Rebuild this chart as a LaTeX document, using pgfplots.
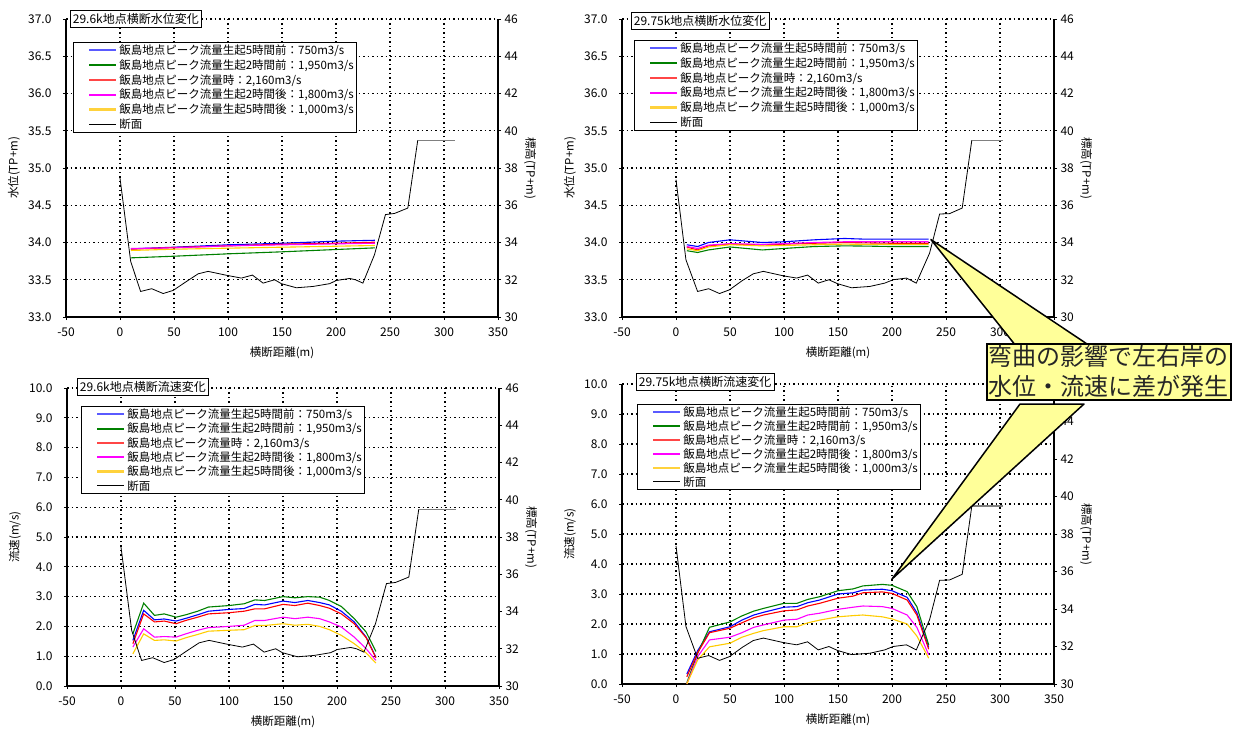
\documentclass[border=0pt]{standalone}
\usepackage{fontspec}
\setmainfont{Noto Sans CJK JP}
\usepackage{pgfplots}
\usepackage{pgfplotstable}
\pgfplotsset{compat=1.18}

\definecolor{lnblue}{RGB}{0,0,255}
\definecolor{lngreen}{RGB}{0,128,0}
\definecolor{lnred}{RGB}{255,0,0}
\definecolor{lnmag}{RGB}{255,0,255}
\definecolor{lnyel}{RGB}{255,204,0}
\definecolor{lgblue}{RGB}{90,90,255}
\definecolor{lgred}{RGB}{255,70,70}
\definecolor{lgyel}{RGB}{255,210,60}
\definecolor{callout}{RGB}{255,255,153}

% cross sections (elevation, right axis)
\pgfplotstableread{
x e
0 37.46
9.9 32.98
19.1 31.37
29.3 31.52
40 31.26
49.3 31.43
61.6 31.91
72.4 32.32
81.6 32.45
98.6 32.24
112.4 32.09
122.6 32.25
132.5 31.82
143.2 32.0
149.4 31.79
163.3 31.57
178.7 31.64
194.1 31.79
200.3 31.96
212.6 32.07
218 32.0
224.9 31.82
235.6 33.34
245.8 35.5
254.2 35.56
266.5 35.85
275.7 39.49
}\secA
\pgfplotstableread{
x e
0 37.37
9.2 33.07
20 31.37
30.2 31.52
40.3 31.26
49.5 31.46
61.5 31.96
71.6 32.32
80.9 32.45
99.4 32.21
111.7 32.09
121.8 32.25
131.7 31.82
141.5 32.0
149.5 31.79
162.5 31.57
179.4 31.64
193.3 31.82
201 32.0
213.3 32.09
222.5 31.82
234.8 33.43
244.1 35.53
253.3 35.55
265 35.85
273.9 39.49
}\secB

% water levels 29.6k
\pgfplotstableread{
x b g r m y
10 33.915 33.794 33.91 33.92 33.893
50 33.937 33.816 33.933 33.928 33.91
100 33.969 33.848 33.955 33.955 33.924
150 33.99 33.875 33.978 33.969 33.937
200 34.018 33.906 33.99 33.982 33.95
236 34.03 33.928 34.004 33.99 33.96
}\wlA
% water levels 29.75k
\pgfplotstableread{
x b g r m y
10 33.97 33.89 33.94 33.946 33.915
20 33.946 33.866 33.90 33.92 33.89
30 34.0 33.90 33.955 33.965 33.94
50 34.036 33.94 33.978 33.985 33.97
80 34.0 33.90 33.97 33.975 33.955
100 34.01 33.92 33.978 33.985 33.96
128 34.036 33.946 33.99 34.0 33.97
156 34.054 33.955 34.0 34.01 33.978
175 34.045 33.952 33.995 34.01 33.975
200 34.045 33.946 33.99 34.01 33.975
234 34.045 33.946 33.99 34.01 33.975
}\wlB
% velocity 29.6k
\pgfplotstableread{
x b g r m y
11 1.53 1.75 1.42 1.31 1.08
21 2.54 2.78 2.42 1.92 1.75
31 2.22 2.37 2.15 1.64 1.53
40 2.25 2.42 2.18 1.66 1.55
51 2.18 2.31 2.09 1.64 1.51
60 2.27 2.39 2.20 1.75 1.62
71 2.39 2.51 2.31 1.87 1.73
81 2.51 2.65 2.42 1.96 1.84
100 2.57 2.70 2.46 2.00 1.87
114 2.60 2.76 2.51 2.04 1.89
124 2.74 2.89 2.59 2.20 2.03
133 2.72 2.87 2.59 2.20 2.03
150 2.85 3.00 2.74 2.31 2.09
161 2.80 2.96 2.70 2.26 2.04
173 2.87 3.00 2.78 2.31 2.07
184 2.80 2.98 2.70 2.26 2.00
193 2.72 2.87 2.61 2.15 1.89
204 2.51 2.67 2.42 1.98 1.70
216 2.15 2.26 2.09 1.64 1.42
227 1.64 1.81 1.62 1.25 1.11
236 0.97 1.16 0.95 0.86 0.77
}\vlA
% velocity 29.75k
\pgfplotstableread{
x b g r m y
10 0.33 0.04 0.24 0.00 0.00
20 1.11 1.02 1.04 0.91 0.80
31 1.74 1.89 1.71 1.47 1.24
50 1.91 2.07 1.86 1.56 1.36
61 2.13 2.27 2.04 1.71 1.56
72 2.30 2.43 2.21 1.89 1.69
81 2.39 2.52 2.30 1.97 1.78
100 2.56 2.69 2.44 2.13 1.91
112 2.58 2.69 2.47 2.16 1.91
122 2.71 2.82 2.60 2.30 2.04
133 2.80 2.91 2.69 2.36 2.13
150 3.00 3.11 2.86 2.49 2.24
164 3.04 3.17 2.93 2.56 2.28
173 3.13 3.27 3.04 2.60 2.30
191 3.16 3.32 3.07 2.58 2.24
200 3.11 3.29 3.02 2.52 2.17
214 2.89 3.08 2.80 2.30 2.00
223 2.38 2.58 2.30 1.89 1.60
234 1.22 1.30 1.16 0.97 0.86
}\vlB

\pgfplotsset{
  common/.style={
    scale only axis, width=432pt, height=298pt,
    xmin=-50, xmax=350,
    axis line style={-, line width=1.1pt, black},
    tick align=outside, major tick length=3pt,
    tick style={black, line width=0.8pt},
    /pgf/number format/assume math mode=true,
    tick label style={font=\fontsize{12}{14}\selectfont},
    label style={font=\fontsize{11.5}{13}\selectfont},
    clip mode=individual,
  },
  paneB/.style={
    common,
    xtick={-50,0,...,350},
    axis x line*=bottom, axis y line*=left,
    grid=major,
    major grid style={black, line width=1.3pt, dash pattern=on 1.5pt off 3pt},
    yticklabel style={xshift=-8pt, /pgf/number format/.cd, fixed, fixed zerofill, precision=1},
    xticklabel style={yshift=-4pt},
    xlabel={横断距離(m)},
    xlabel style={at={([yshift=-36pt]rel axis cs:0.5,0)}, anchor=center},
    ylabel style={at={([xshift=-52pt]rel axis cs:0,0.5)}, anchor=center},
  },
  paneA/.style={
    common,
    axis x line=none, axis y line*=right,
    ymin=30, ymax=46, ytick={30,32,...,46},
    ylabel={標高(TP+m)},
    ylabel style={at={([xshift=32pt]rel axis cs:1,0.5)}, anchor=center, rotate=180},
  },
}

\newcommand{\fiveplots}[1]{%
  \addplot[color=lnblue, line width=1.1pt] table[x=x,y=b]{#1};
  \addplot[color=lngreen, line width=1.1pt] table[x=x,y=g]{#1};
  \addplot[color=lnred, line width=1.1pt] table[x=x,y=r]{#1};
  \addplot[color=lnmag, line width=1.1pt] table[x=x,y=m]{#1};
  \addplot[color=lnyel, line width=1.1pt] table[x=x,y=y]{#1};
}
\newcommand{\legline}[2]{\hspace*{16pt}\textcolor{#1}{\rule[\dimexpr 0.36em-#2/2\relax]{27pt}{#2}}\hspace{3pt}}
\newcommand{\mylegend}[3]{% xshift, yshift, baselineskip
  \node[draw=black, line width=0.6pt, fill=white, anchor=north west, inner xsep=0pt, inner ysep=2.5pt,
    align=left, font=\fontsize{11.5}{#3}\selectfont] at ([xshift=#1,yshift=-#2]rel axis cs:0,1) {%
    \legline{lgblue}{2.2pt}飯島地点ピーク流量生起5時間前：750m3/s\hspace*{12pt}\\
    \legline{lngreen}{1.7pt}飯島地点ピーク流量生起2時間前：1,950m3/s\hspace*{12pt}\\
    \legline{lgred}{2.2pt}飯島地点ピーク流量時：2,160m3/s\\
    \legline{lnmag}{1.7pt}飯島地点ピーク流量生起2時間後：1,800m3/s\hspace*{12pt}\\
    \legline{lgyel}{2.2pt}飯島地点ピーク流量生起5時間後：1,000m3/s\hspace*{12pt}\\
    \legline{black}{0.9pt}断面};
}
\newcommand{\titlebox}[3]{%
  \node[draw=black, line width=0.7pt, fill=white, anchor=north west, inner xsep=2.5pt, inner ysep=3pt,
    font=\fontsize{12}{14}\selectfont] at ([xshift=#1,yshift=#2]rel axis cs:0,1) {#3};
}

\begin{document}
\begin{tikzpicture}
\path[use as bounding box] (0pt,0pt) rectangle (1234pt,-729pt);

% ---------- top left ----------
\begin{axis}[paneB, at={(66pt,-19pt)}, anchor=north west,
  ymin=33, ymax=37, ytick={33,33.5,34,34.5,35,35.5,36,36.5,37},
  ylabel={水位(TP+m)}]
  \fiveplots{\wlA}
  \mylegend{7pt}{23pt}{14.8pt}
  \titlebox{4pt}{9pt}{29.6k地点横断水位変化}
\end{axis}
\begin{axis}[paneA, at={(66pt,-19pt)}, anchor=north west]
  \addplot[black, line width=0.8pt] table[x=x,y=e]{\secA};
  \addplot[gray, line width=1.5pt] coordinates {(275.7,39.49) (310,39.49)};
\end{axis}

% ---------- top right ----------
\begin{axis}[paneB, at={(622pt,-19pt)}, anchor=north west,
  ymin=33, ymax=37, ytick={33,33.5,34,34.5,35,35.5,36,36.5,37},
  ylabel={水位(TP+m)}]
  \fiveplots{\wlB}
  \mylegend{12pt}{21pt}{14.8pt}
  \titlebox{9pt}{7pt}{29.75k地点横断水位変化}
  \coordinate (tipA) at (axis cs:236,34.04);
\end{axis}
\begin{axis}[paneA, at={(622pt,-19pt)}, anchor=north west]
  \addplot[black, line width=0.8pt] table[x=x,y=e]{\secB};
  \addplot[gray, line width=1.5pt] coordinates {(273.9,39.49) (303,39.49)};
\end{axis}

% ---------- bottom left ----------
\begin{axis}[paneB, at={(67pt,-388pt)}, anchor=north west,
  ymin=0, ymax=10, ytick={0,1,...,10},
  ylabel={流速(m/s)}]
  \fiveplots{\vlA}
  \mylegend{14pt}{18pt}{14.3pt}
  \titlebox{10pt}{10pt}{29.6k地点横断流速変化}
\end{axis}
\begin{axis}[paneA, at={(67pt,-388pt)}, anchor=north west]
  \addplot[black, line width=0.8pt] table[x=x,y=e]{\secA};
  \addplot[gray, line width=1.5pt] coordinates {(275.7,39.49) (310,39.49)};
\end{axis}

% ---------- bottom right ----------
\begin{axis}[paneB, at={(622pt,-384pt)}, anchor=north west, height=300pt,
  ymin=0, ymax=10, ytick={0,1,...,10},
  ylabel={流速(m/s)}]
  \fiveplots{\vlB}
  \mylegend{15pt}{20pt}{13.9pt}
  \titlebox{14pt}{11pt}{29.75k地点横断流速変化}
  \coordinate (tipB) at (axis cs:200,3.5);
\end{axis}
\begin{axis}[paneA, at={(622pt,-384pt)}, anchor=north west, height=300pt]
  \addplot[black, line width=0.8pt] table[x=x,y=e]{\secB};
  \addplot[gray, line width=1.5pt] coordinates {(273.9,39.49) (303,39.49)};
\end{axis}

% ---------- callout ----------
\draw[black, line width=1.5pt, fill=callout, line join=round] (1016pt,-346pt) -- (tipA) -- (1090pt,-346pt) -- cycle;
\draw[black, line width=1.5pt, fill=callout, line join=round] (1020pt,-404pt) -- (tipB) -- (1084pt,-404pt) -- cycle;
\node[draw=black, line width=1.6pt, fill=callout, anchor=north west, inner sep=2pt,
  align=left, text=black!85, font=\fontsize{24}{30}\selectfont] at (986pt,-343pt)
  {弯曲の影響で左右岸の\\水位・流速に差が発生};
\end{tikzpicture}
\end{document}
